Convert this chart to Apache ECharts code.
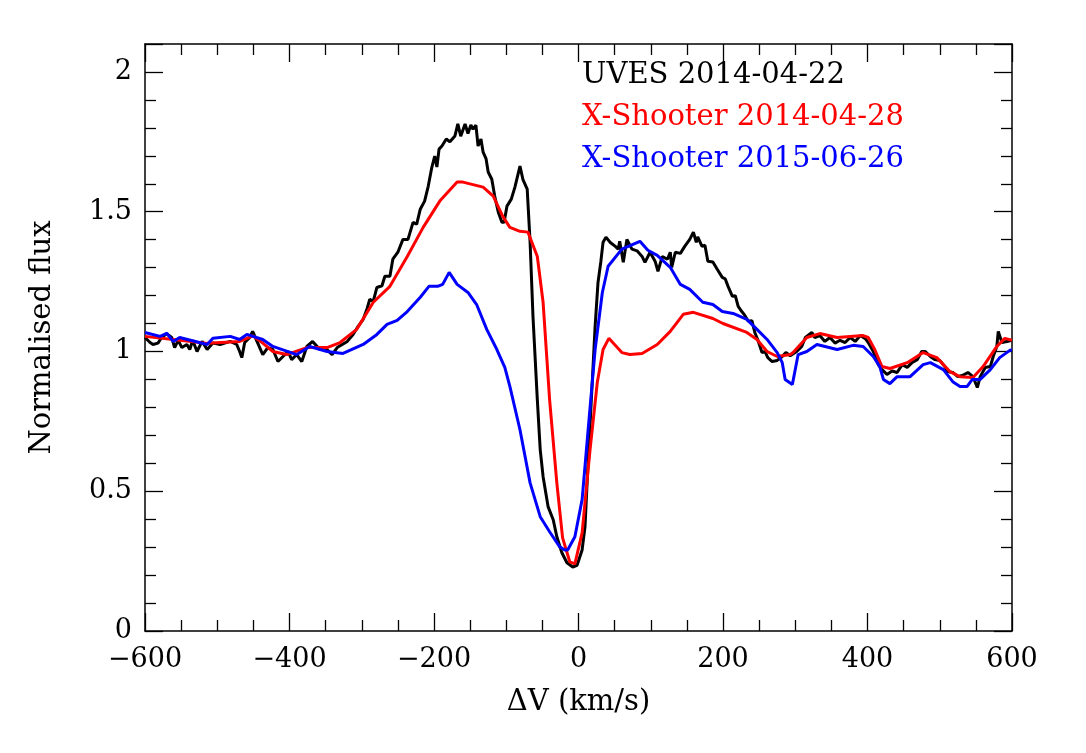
<!DOCTYPE html>
<html>
<head>
<meta charset="utf-8">
<script src="https://cdn.jsdelivr.net/npm/echarts@6/dist/echarts.min.js"></script>
<style>
html,body{margin:0;padding:0;background:#fff;}
#chart{width:1086px;height:753px;}
</style>
</head>
<body>
<div id="chart"></div>
<script>
const seriesNames = ['UVES 2014-04-22', 'X-Shooter 2014-04-28', 'X-Shooter 2015-06-26'];
const seriesColors = ['#000000', '#ff0000', '#0000ff'];

const uves = [[-600,1.05],[-593,1.032],[-589,1.025],[-582,1.03],[-577,1.05],[-570,1.064],[-563,1.05],[-559,1.014],[-554,1.04],[-549,1.014],[-542,1.025],[-538,1.007],[-534,1.04],[-528,1.0],[-521,1.036],[-514,1.007],[-506,1.03],[-496,1.025],[-482,1.036],[-473,1.025],[-469,1.0],[-466,0.978],[-462,1.032],[-455,1.05],[-451,1.072],[-445,1.036],[-437,0.989],[-430,1.014],[-423,1.007],[-416,0.964],[-409,0.982],[-402,1.0],[-397,0.971],[-390,0.989],[-383,0.964],[-376,1.018],[-368,1.036],[-358,1.007],[-351,1.014],[-341,0.989],[-334,1.014],[-327,1.025],[-320,1.036],[-312,1.061],[-305,1.09],[-298,1.115],[-293,1.15],[-289,1.186],[-284,1.18],[-279,1.229],[-272,1.235],[-268,1.269],[-261,1.269],[-257,1.33],[-250,1.355],[-243,1.401],[-236,1.401],[-229,1.462],[-224,1.455],[-219,1.509],[-213,1.538],[-208,1.591],[-203,1.659],[-199,1.699],[-196,1.66],[-193,1.724],[-189,1.735],[-183,1.76],[-178,1.75],[-171,1.771],[-167,1.814],[-163,1.77],[-157,1.814],[-153,1.78],[-149,1.81],[-146,1.795],[-142,1.81],[-139,1.735],[-135,1.76],[-132,1.713],[-128,1.69],[-125,1.642],[-120,1.616],[-116,1.556],[-111,1.498],[-106,1.462],[-103,1.462],[-99,1.52],[-93,1.545],[-88,1.588],[-81,1.663],[-77,1.616],[-71,1.581],[-67,1.391],[-63,1.125],[-57,0.828],[-53,0.649],[-49,0.552],[-42,0.444],[-35,0.398],[-30,0.337],[-23,0.28],[-16,0.244],[-8,0.229],[-2,0.235],[5,0.29],[9,0.373],[13,0.588],[19,0.889],[23,1.09],[27,1.247],[31,1.323],[34,1.391],[38,1.409],[44,1.39],[51,1.376],[55,1.366],[57,1.394],[62,1.319],[67,1.401],[74,1.366],[81,1.36],[88,1.34],[92,1.319],[99,1.355],[106,1.323],[110,1.287],[116,1.34],[123,1.33],[127,1.355],[129,1.301],[134,1.355],[141,1.351],[147,1.376],[154,1.401],[159,1.427],[163,1.39],[165,1.41],[171,1.376],[175,1.38],[179,1.323],[186,1.32],[192,1.294],[199,1.265],[203,1.26],[207,1.233],[213,1.197],[217,1.2],[221,1.161],[226,1.143],[230,1.13],[235,1.108],[240,1.11],[244,1.068],[248,1.043],[254,0.996],[258,1.0],[262,0.978],[268,0.964],[275,0.968],[282,0.982],[287,0.996],[293,0.985],[302,1.0],[309,1.018],[314,1.05],[323,1.068],[327,1.05],[334,1.057],[341,1.036],[348,1.05],[355,1.03],[362,1.04],[369,1.032],[376,1.05],[383,1.036],[390,1.057],[397,1.046],[401,1.032],[408,1.0],[415,0.953],[420,0.935],[427,0.918],[434,0.93],[441,0.925],[448,0.953],[455,0.943],[462,0.961],[469,0.971],[475,1.0],[480,1.0],[487,0.982],[493,0.971],[500,0.968],[507,0.946],[511,0.928],[518,0.925],[525,0.91],[532,0.915],[539,0.925],[546,0.91],[552,0.871],[556,0.91],[563,0.943],[570,0.946],[574,0.982],[579,1.018],[581,1.072],[586,1.032],[593,1.036],[600,1.04]];

const xs2014 = [[-600,1.054],[-561,1.043],[-514,1.029],[-469,1.036],[-451,1.056],[-437,1.03],[-423,1.0],[-404,0.989],[-376,1.014],[-348,1.014],[-330,1.032],[-307,1.079],[-284,1.176],[-261,1.233],[-237,1.34],[-215,1.444],[-192,1.538],[-168,1.606],[-160,1.606],[-132,1.588],[-118,1.556],[-105,1.484],[-95,1.444],[-81,1.43],[-70,1.427],[-57,1.34],[-49,1.176],[-40,0.828],[-30,0.53],[-22,0.333],[-12,0.247],[-5,0.24],[5,0.351],[16,0.649],[26,0.889],[34,1.007],[42,1.047],[60,0.996],[71,0.989],[88,0.993],[109,1.025],[127,1.072],[145,1.133],[159,1.14],[186,1.118],[200,1.1],[233,1.068],[247,1.043],[261,1.0],[275,0.982],[293,0.989],[297,0.996],[316,1.05],[334,1.064],[358,1.05],[376,1.054],[394,1.057],[401,1.05],[410,1.007],[420,0.946],[431,0.939],[455,0.96],[477,0.996],[496,0.978],[514,0.928],[528,0.91],[546,0.907],[560,0.946],[579,1.018],[590,1.047],[600,1.04]];

const xs2015 = [[-600,1.068],[-579,1.054],[-570,1.065],[-561,1.036],[-552,1.05],[-514,1.025],[-506,1.047],[-482,1.054],[-469,1.043],[-459,1.061],[-437,1.043],[-423,1.018],[-390,0.989],[-372,1.018],[-348,1.0],[-326,0.993],[-298,1.025],[-279,1.061],[-265,1.097],[-251,1.111],[-237,1.143],[-219,1.194],[-207,1.233],[-195,1.233],[-188,1.24],[-179,1.283],[-168,1.24],[-153,1.211],[-141,1.168],[-127,1.079],[-113,1.007],[-102,0.943],[-95,0.875],[-81,0.72],[-67,0.53],[-53,0.409],[-40,0.355],[-26,0.301],[-19,0.29],[-15,0.29],[-5,0.337],[5,0.47],[13,0.71],[23,1.007],[33,1.211],[41,1.305],[60,1.366],[85,1.394],[96,1.362],[109,1.344],[127,1.301],[141,1.24],[154,1.222],[172,1.176],[186,1.168],[199,1.143],[214,1.136],[233,1.115],[247,1.079],[261,1.043],[275,0.996],[282,0.96],[286,0.9],[296,0.882],[304,0.989],[316,1.0],[330,1.025],[358,1.007],[380,1.022],[394,1.018],[408,0.982],[417,0.946],[422,0.9],[431,0.885],[441,0.91],[459,0.91],[477,0.953],[487,0.96],[505,0.935],[518,0.892],[528,0.875],[538,0.875],[545,0.9],[556,0.9],[570,0.935],[583,0.978],[597,1.004],[600,1.005]];

const xTicks = { min: -600, max: 600, interval: 200 };
const yTicks = { min: 0, max: 2.1, interval: 0.5 };
const xLabel = '\u0394V (km/s)';
const yLabel = 'Normalised flux';

const FONT = 'DejaVu Serif';
const chart = echarts.init(document.getElementById('chart'), null, {renderer: 'canvas'});

function axisCommon(showLabel) {
  return {
    axisLine: { show: true, onZero: false, lineStyle: { color: '#000', width: 1.5 } },
    axisTick: { show: true, inside: true, length: 18, lineStyle: { color: '#000', width: 1.3 } },
    minorTick: { show: true, length: 11, lineStyle: { color: '#000', width: 1.3 } },
    splitLine: { show: false },
    axisLabel: { show: showLabel }
  };
}

const option = {
  backgroundColor: '#fff',
  animation: false,
  grid: { left: 145, right: 74, top: 44, bottom: 122, containLabel: false },
  legend: {
    orient: 'vertical', left: 572, top: 56, itemGap: 13,
    icon: 'none', itemWidth: 0, itemHeight: 0,
    selectedMode: false,
    textStyle: { fontFamily: FONT, fontSize: 29 },
    data: seriesNames.map((n, i) => ({ name: n, textStyle: { color: seriesColors[i] } }))
  },
  xAxis: [
    Object.assign(axisCommon(true), {
      type: 'value', position: 'bottom', min: xTicks.min, max: xTicks.max, interval: xTicks.interval,
      minorTick: { show: true, splitNumber: 4, length: 11, lineStyle: { color: '#000', width: 1.3 } },
      axisLabel: { show: true, color: '#000', fontFamily: FONT, fontSize: 27, margin: 15,
        formatter: v => String(v).replace('-', '\u2212') },
      name: xLabel, nameLocation: 'middle', nameGap: 57,
      nameTextStyle: { color: '#000', fontFamily: FONT, fontSize: 29 }
    }),
    Object.assign(axisCommon(false), {
      type: 'value', position: 'top', min: xTicks.min, max: xTicks.max, interval: xTicks.interval,
      minorTick: { show: true, splitNumber: 4, length: 11, lineStyle: { color: '#000', width: 1.3 } }
    })
  ],
  yAxis: [
    Object.assign(axisCommon(true), {
      type: 'value', position: 'left', min: yTicks.min, max: yTicks.max, interval: yTicks.interval,
      minorTick: { show: true, splitNumber: 5, length: 11, lineStyle: { color: '#000', width: 1.3 } },
      axisLabel: { show: true, color: '#000', fontFamily: FONT, fontSize: 27, margin: 13,
        showMaxLabel: false, formatter: v => (v > 2.05 ? '' : String(v)) },
      name: yLabel, nameLocation: 'middle', nameGap: 88, nameRotate: 90,
      nameTextStyle: { color: '#000', fontFamily: FONT, fontSize: 29 }
    }),
    Object.assign(axisCommon(false), {
      type: 'value', position: 'right', min: yTicks.min, max: yTicks.max, interval: yTicks.interval,
      minorTick: { show: true, splitNumber: 5, length: 11, lineStyle: { color: '#000', width: 1.3 } }
    })
  ],
  series: [
    { name: seriesNames[0], data: uves, color: seriesColors[0] },
    { name: seriesNames[1], data: xs2014, color: seriesColors[1] },
    { name: seriesNames[2], data: xs2015, color: seriesColors[2] }
  ].map(s => ({
    type: 'line', name: s.name, data: s.data, xAxisIndex: 0, yAxisIndex: 0,
    showSymbol: false, symbol: 'none', smooth: false, clip: true,
    lineStyle: { color: s.color, width: 3 }, itemStyle: { color: s.color }
  }))
};
chart.setOption(option);
</script>
</body>
</html>
